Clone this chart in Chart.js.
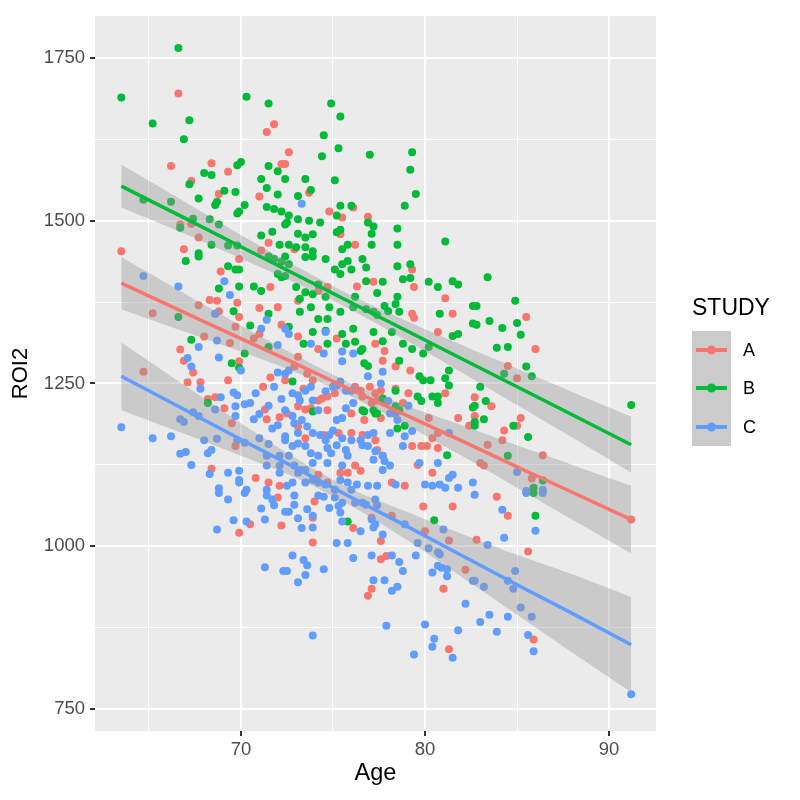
<!DOCTYPE html>
<html><head><meta charset="utf-8">
<script src="https://cdn.jsdelivr.net/npm/chart.js@4.4.0/dist/chart.umd.min.js"></script>
<style>html,body{margin:0;padding:0;background:#fff}#wrap{width:800px;height:800px}</style>
</head><body><div id="wrap"><canvas id="c" width="800" height="800"></canvas></div>
<script>
const studies = ['A','B','C'];
const studyColors = ['#F8766D','#00BA38','#619CFF'];
const xTicks = [65,70,75,80,85,90];
const yTicks = [750,875,1000,1125,1250,1375,1500,1625,1750];

// [Age, ROI2]
const pointsA = [
[66.6,1695],[71.8,1648],[71.4,1636],[66.2,1584],[68.4,1588],[69.3,1575],[67.3,1561],[71.0,1537],[72.2,1587],[68.8,1541],[71.5,1466],[66.7,1494],[67.3,1495],[67.7,1474],[66.9,1456],[63.5,1453],[71.1,1454],
[72.6,1605],[72.4,1587],[73.7,1543],[74.8,1514],[75.5,1505],[76.9,1506],[75.4,1479],[76.2,1463],[72.9,1456],[76.1,1520],
[65.2,1358],[64.7,1268],[66.7,1302],[66.9,1285],[67.4,1267],[67.1,1252],[67.8,1252],[68.0,1322],[69.4,1312],[67.7,1370],[68.6,1357],[68.3,1378],[68.7,1377],[68.8,1361],[69.7,1337],[69.8,1374],[69.9,1352],[68.9,1422],[69.9,1441],[71.0,1366],[71.6,1398],[71.0,1326],[70.7,1319],[69.9,1284],[69.3,1255],[71.6,1259],[71.2,1245],[69.1,1212],[68.6,1229],[68.2,1226],[69.5,1189],[71.3,1210],[71.4,1195],[72.1,1198],[69.7,1154],[68.4,1119],[70.8,1105],[71.5,1098],[72.1,1093],[72.0,1367],[72.2,1340],
[70.5,1034],[69.9,1021],[72.2,1032],[72.0,1075],
[74.0,1069],[73.9,1044],[73.9,1006],[76.1,1028],[77.1,1044],[77.6,1008],[77.6,980],[77.9,985],[77.1,935],[76.9,924],[81.3,842],[81.0,935],[82.2,964],[79.9,1061],[80.0,1023],[81.3,1009],[81.5,1061],[78.2,1047],
[83.9,1076],[84.5,1047],[82.8,1010],[85.6,992],[85.9,857],[91.2,1041],
[85.5,1352],[86.0,1303],[84.5,1277],[85.0,1258],[82.7,1229],[83.6,1215],[82.7,1200],[85.2,1197],[85.0,1185],[84.3,1178],[83.4,1156],[84.2,1163],[86.4,1140],[83.0,1128],[83.2,1124],[85.8,1104],
[79.3,1425],[76.3,1399],[77.2,1406],[79.4,1398],[81.1,1381],[73.1,1377],[74.2,1392],[74.7,1398],[79.3,1357],[79.4,1351],[81.5,1357],[80.7,1329],[73.1,1322],[74.2,1303],[75.2,1319],[77.3,1311],[77.8,1300],[77.7,1285],[78.4,1276],[79.2,1270],[81.1,1235],[81.8,1197],[82.4,1185],[80.7,1174],[80.4,1166],[80.2,1197],[78.8,1220],[77.6,1239],[78.4,1242],[79.1,1235],[79.3,1154],[79.8,1154],[80.1,1154],[79.6,1125],[80.4,1113],[80.7,1151],[78.2,1098],[78.9,1093],
[73.1,1291],[72.9,1276],[73.6,1265],[72.4,1255],[73.4,1242],[73.9,1255],[74.4,1227],[73.1,1215],[73.5,1210],[73.8,1212],[74.2,1224],
[74.7,1230],[75.1,1235],[76.2,1245],[76.5,1239],[76.6,1230],[77.0,1245],[77.3,1235],[77.1,1220],[77.4,1224],[77.8,1220],[76.0,1204],[76.7,1194],[77.6,1197],[74.7,1209],
[72.5,1204],[73.1,1184],[73.5,1166],[74.5,1171],[75.3,1174],[76.0,1174],[76.6,1171],[77.3,1163],[77.4,1148],[77.7,1139],[76.2,1124],[76.5,1116],[75.8,1113],[74.2,1110],[74.7,1098],[75.4,1113]
];
const pointsB = [
[63.5,1689],[66.6,1765],[70.3,1690],[71.5,1680],[65.2,1649],[67.2,1654],[66.9,1625],[70.0,1590],[69.8,1585],[68.0,1573],[68.4,1570],[67.2,1556],[71.5,1584],[72.0,1576],[71.1,1564],[71.4,1550],[72.0,1540],[67.7,1534],[69.1,1546],[68.7,1529],[68.6,1524],[69.7,1544],[70.2,1524],[69.9,1514],[69.8,1511],[71.4,1521],[71.8,1518],[72.2,1514],[72.4,1494],[71.1,1477],[71.7,1483],[72.1,1463],[64.7,1532],[66.2,1529],[67.4,1503],[68.3,1502],[68.8,1494],[66.7,1489],[68.4,1463],[69.3,1462],[69.8,1462],[67.7,1450],
[74.9,1680],[75.4,1660],[74.5,1631],[75.3,1611],[74.4,1599],[77.0,1601],[79.3,1605],[79.2,1578],[72.4,1564],[73.5,1564],[75.1,1562],[73.8,1547],[73.1,1538],[79.5,1541],[78.9,1523],[75.4,1523],[76.0,1523],[75.2,1508],[76.9,1497],[77.2,1491],[77.1,1480],[78.5,1488],[72.6,1508],[72.5,1497],[73.1,1502],[73.7,1500],[74.3,1497],[73.1,1480],[73.5,1474],[73.9,1479],[75.2,1482],[75.4,1486],[72.6,1463],[73.0,1459],[73.5,1459],[73.9,1453],[75.5,1456],[75.8,1463],[77.1,1463],[78.5,1463],[81.1,1468],
[67.0,1438],[67.7,1445],[66.6,1352],[67.3,1317],[69.6,1361],[68.8,1396],[69.3,1430],[69.7,1425],[69.9,1425],[69.9,1399],[70.7,1399],[71.1,1392],[70.5,1339],[71.5,1306],[70.2,1296],[69.5,1281],[69.9,1274],[68.2,1220],[71.5,1445],[71.8,1441],[72.2,1437],[72.0,1418],[72.2,1413],[71.5,1357],
[75.8,1038],[80.5,1040],[85.9,1082],[86.0,1047],
[83.4,1413],[84.9,1377],[82.8,1369],[83.5,1346],[84.2,1335],[85.0,1343],[85.2,1325],[82.8,1340],[83.9,1305],[84.5,1306],[84.3,1265],[85.5,1276],[85.8,1261],[83.0,1245],[91.2,1217],[83.3,1223],[82.7,1216],[83.2,1195],[82.7,1185],[84.8,1185],[85.6,1168],[84.5,1139],[86.4,1101],[85.9,1090],
[73.5,1444],[73.9,1445],[74.6,1441],[75.5,1433],[75.8,1438],[76.6,1441],[76.8,1428],[76.0,1425],[75.4,1418],[75.1,1425],[78.5,1430],[79.2,1433],
[78.8,1410],[79.2,1412],[80.2,1406],[80.7,1398],[81.5,1407],[81.8,1402],[76.8,1407],[77.7,1406],[77.4,1389],[78.5,1383],
[72.4,1445],[72.6,1433],[72.4,1415],[73.0,1398],[73.2,1380],[73.5,1390],[73.9,1387],[74.2,1402],[74.6,1383],[73.8,1367],[73.2,1360],[74.8,1367],[74.2,1349],[74.7,1349],[75.4,1360],
[76.2,1383],[76.1,1367],[76.8,1364],[77.2,1360],[77.8,1369],[78.0,1361],[78.6,1360],[78.4,1372],[77.4,1355],
[80.8,1357],[82.6,1369],[82.6,1342],[81.5,1323],[81.8,1326],
[72.6,1337],[73.4,1311],[73.9,1329],[74.6,1331],[74.7,1311],[75.5,1326],[76.1,1334],[76.2,1314],[76.5,1300],[75.7,1311],[76.6,1303],[77.2,1329],[77.7,1315],[78.2,1329],[78.8,1311],[79.3,1303],[79.9,1296],[80.2,1306],
[78.6,1285],[76.7,1281],[76.9,1277],
[79.7,1261],[79.9,1255],[80.3,1255],[81.3,1270],[81.1,1258],[81.3,1247],
[79.6,1230],[80.4,1230],[80.7,1230],[79.8,1223],[80.7,1220],
[82.6,1213],[82.7,1191],
[81.2,1140],[78.4,1215],[78.6,1209],[77.4,1204],[76.7,1207],[77.7,1227],[78.4,1239],[78.5,1181],[78.9,1185],[72.8,1253],[73.9,1207],[76.6,1209],[77.2,1209],[77.3,1204]
];
const pointsC = [
[73.3,1526],
[64.7,1415],[66.6,1399],[63.5,1183],[65.2,1166],[66.2,1169],[66.7,1195],[66.9,1191],[67.1,1289],[67.3,1276],[67.8,1242],[67.7,1306],[68.7,1316],[68.8,1290],[68.9,1229],[68.6,1357],[69.4,1386],[69.1,1407],[71.1,1334],[71.4,1348],[72.0,1309],[70.0,1270],[72.0,1267],[71.8,1245],[70.8,1235],[69.6,1236],[69.8,1232],[70.5,1220],[70.2,1218],[69.7,1215],[67.4,1206],[67.7,1200],[68.6,1210],[69.7,1200],[71.5,1216],[71.0,1203],[70.7,1195],[71.7,1181],[72.0,1186],[72.2,1226],[71.0,1166],[71.5,1157],[69.8,1163],[70.2,1159],[68.0,1163],[68.7,1165],[68.4,1148],[68.2,1143],[66.7,1142],[67.0,1145],[67.3,1125],[68.3,1111],[69.3,1113],[69.9,1116],[69.9,1102],[69.9,1098],[71.4,1139],[71.4,1124],[72.1,1139],[72.1,1124],[72.1,1113],[68.8,1089],[70.3,1087],[71.4,1087],
[68.8,1082],[69.3,1072],[70.2,1082],[71.1,1058],[71.3,1041],[69.6,1040],[70.3,1038],[68.7,1026],[71.8,1063],[71.7,1072],[71.4,1078],[72.4,1053],[71.3,968],[72.3,962],
[72.9,1078],[72.9,1064],[72.6,1053],[73.1,1043],[73.3,1028],[73.6,1057],[73.9,1047],[73.9,1029],[74.2,1078],[74.5,1076],[74.8,1059],[75.1,1075],[75.3,1062],[75.5,1067],[75.4,1052],[75.5,1038],[76.2,1067],[76.6,1067],[76.8,1064],[77.3,1072],[77.4,1063],[77.1,1041],[77.3,1034],[77.2,1029],[77.7,1018],[76.5,1023],[75.2,1005],[75.8,1005],[76.1,982],[72.8,986],[73.4,979],[73.6,971],[73.5,956],[73.1,945],[72.5,962],[74.5,965],[77.1,986],[78.2,986],[78.6,976],[78.8,962],[77.2,948],[77.8,948],[78.2,932],[78.5,938],[73.9,863],[77.9,878],[80.0,880],[80.5,858],[80.4,846],[81.5,829],[79.4,834],[81.8,871],[82.2,912],[82.6,947],[80.4,960],[80.7,970],[80.9,967],[81.2,965],[81.2,954],[79.5,986],[80.2,997],[80.7,991],[80.8,988],[79.6,1005],[78.9,1034],[81.0,1026],
[82.7,1079],[85.5,1082],[86.4,1082],[84.2,1056],[86.0,1024],[84.3,1013],[83.4,1002],[84.9,962],[84.5,947],[84.8,935],[82.7,947],[83.2,938],[85.2,906],[85.8,892],[83.5,895],[84.5,892],[83.0,884],[83.9,869],[85.6,864],[85.9,839],[91.2,773],
[85.0,1114],[86.4,1087],[85.5,1085],
[74.6,1329],[73.8,1311],[74.5,1296],[75.5,1299],[76.1,1296],[75.5,1284],[77.7,1268],[76.9,1261],[81.3,1174],[79.1,1216],[78.1,1204],[78.5,1194],[78.9,1169],[78.1,1174],[78.8,1154],[79.3,1177],[79.7,1128],[80.7,1128],[81.5,1110],[81.3,1105],[80.0,1095],[80.4,1093],[80.8,1095],[81.1,1090],[81.8,1090],[82.6,1098],[78.4,1095],
[72.4,1334],[72.6,1326],[72.4,1265],[72.6,1270],
[72.8,1235],[73.1,1232],[73.5,1239],[73.8,1245],[73.9,1224],[74.2,1209],[73.2,1224],
[74.6,1238],[75.0,1245],[75.2,1247],[75.4,1253],[75.7,1239],[76.0,1239],[76.1,1220],[75.7,1212],[75.5,1197],[75.2,1194],
[77.6,1250],[78.0,1223],[78.4,1204],
[72.4,1209],[72.8,1200],[72.9,1189],[73.3,1194],[73.6,1184],[73.9,1174],[73.1,1174],[73.5,1154],[72.8,1154],[72.4,1163],[72.6,1139],[72.9,1124],[73.2,1117],[73.5,1117],[73.9,1128],
[74.3,1171],[74.6,1163],[74.8,1171],[75.0,1178],[75.2,1155],[75.5,1166],[75.7,1148],[75.8,1139],[74.9,1143],[74.7,1151],[76.0,1163],[76.5,1163],[76.6,1155],[76.9,1171],[77.2,1174],
[76.9,1154],[77.3,1146],[77.7,1139],[77.8,1131],[78.1,1124],[77.7,1117],[77.2,1133],
[75.4,1102],[75.8,1098],[76.3,1095],[76.9,1093],[77.4,1093],[76.0,1087],[75.1,1087],[74.6,1095],[74.2,1098],[73.9,1102],[73.5,1098],[73.1,1113],[72.8,1098],[72.5,1093],
[72.4,1169],[73.1,1158],[73.8,1143],[74.2,1139],[74.7,1128],[75.5,1124]
];

// fitted lines and confidence bands read at these ages
const fitAges = [63.5,67,70,73,76,79,82,85,88,91.2];
const fitA   = [1404,1358,1319,1280,1240,1201,1162,1122,1083,1041];
const upperA = [1444,1387,1339,1293,1250,1216,1186,1155,1125,1093];
const lowerA = [1364,1329,1299,1267,1230,1186,1139,1090,1041,989];
const fitB   = [1553,1503,1460,1417,1374,1331,1288,1245,1202,1156];
const upperB = [1586,1528,1478,1430,1385,1346,1309,1273,1237,1199];
const lowerB = [1520,1479,1442,1404,1363,1316,1267,1217,1167,1113];
const fitC   = [1261,1209,1164,1120,1075,1031,986,941,897,849];
const upperC = [1313,1246,1189,1135,1088,1053,1019,987,957,922];
const lowerC = [1209,1172,1139,1105,1062,1010,953,895,837,776];

const FONT = '"Liberation Sans", Arial, Helvetica, sans-serif';
const toXY = arr => arr.map(p => ({x:p[0], y:p[1]}));
const curve = ys => fitAges.map((x,i) => ({x, y: ys[i]}));

const allPoints = [pointsA, pointsB, pointsC];
const fits = [fitA, fitB, fitC], uppers = [upperA, upperB, upperC], lowers = [lowerA, lowerB, lowerC];
const datasets = [];
studies.forEach((s, i) => {
  datasets.push({type:'scatter', label:s, data: toXY(allPoints[i]), pointRadius:4, pointBorderWidth:0,
    backgroundColor: studyColors[i], borderColor: studyColors[i], order: 10 - i});
});
studies.forEach((s, i) => {
  const base = 7 - 2*i;
  datasets.push({type:'line', label:s+' upper', data: curve(uppers[i]), borderColor:'rgba(0,0,0,0)', borderWidth:0,
    pointRadius:0, fill:'+1', backgroundColor:'rgba(153,153,153,0.4)', tension:0.3, order: base});
  datasets.push({type:'line', label:s+' lower', data: curve(lowers[i]), borderColor:'rgba(0,0,0,0)', borderWidth:0,
    pointRadius:0, fill:false, tension:0.3, order: base});
  datasets.push({type:'line', label:s+' fit', data: curve(fits[i]), borderColor: studyColors[i], borderWidth:3.5,
    pointRadius:0, fill:false, order: base - 1});
});

const panelBg = {
  id:'panelBg',
  beforeDraw(chart){
    const {ctx, chartArea:a} = chart;
    ctx.save(); ctx.fillStyle='#EBEBEB'; ctx.fillRect(a.left, a.top, a.right-a.left, a.bottom-a.top); ctx.restore();
  }
};
const legendPlugin = {
  id:'ggLegend',
  afterDraw(chart){
    const ctx = chart.ctx;
    ctx.save();
    ctx.fillStyle = '#000'; ctx.font = '23px ' + FONT; ctx.textBaseline = 'middle'; ctx.textAlign = 'left';
    ctx.fillText('STUDY', 692, 309);
    ctx.fillStyle = '#CBCBCB';
    ctx.fillRect(692, 331, 39, 115);
    const rowY = [350, 388, 427];
    studies.forEach((s, i) => {
      ctx.strokeStyle = studyColors[i]; ctx.lineWidth = 4;
      ctx.beginPath(); ctx.moveTo(696, rowY[i]); ctx.lineTo(727, rowY[i]); ctx.stroke();
      ctx.fillStyle = studyColors[i];
      ctx.beginPath(); ctx.arc(711.5, rowY[i], 4.5, 0, Math.PI*2); ctx.fill();
      ctx.fillStyle = '#000'; ctx.font = '18px ' + FONT;
      ctx.fillText(s, 743, rowY[i] + 1);
    });
    ctx.restore();
  }
};

new Chart(document.getElementById('c'), {
  type:'scatter',
  data:{datasets},
  options:{
    responsive:false, animation:false, devicePixelRatio:1,
    layout:{padding:{top:12, right:144, left:0, bottom:0}},
    plugins:{legend:{display:false}, tooltip:{enabled:false}},
    scales:{
      x:{type:'linear', min:62.07, max:92.55,
        afterBuildTicks: s => { s.ticks = xTicks.map(v => ({value:v})); },
        afterFit: s => { s.height = 69; },
        border:{display:false},
        grid:{color:'#FFFFFF', lineWidth: c => (c.tick && c.tick.value % 10 === 0) ? 2 : 1,
          drawTicks:true, tickLength:5, tickWidth:2,
          tickColor: c => (c.tick && c.tick.value % 10 === 0) ? '#333333' : 'rgba(0,0,0,0)'},
        ticks:{autoSkip:false, maxRotation:0, padding:3, color:'#4D4D4D', font:{family:FONT, size:18.5},
          callback: v => (v % 10 === 0) ? String(v) : ''},
        title:{display:true, text:'Age', color:'#000', font:{family:FONT, size:23.5}, padding:{top:0, bottom:12}}
      },
      y:{type:'linear', min:716.5, max:1814,
        afterBuildTicks: s => { s.ticks = yTicks.map(v => ({value:v})); },
        afterFit: s => { s.width = 95; },
        border:{display:false},
        grid:{color:'#FFFFFF', lineWidth: c => (c.tick && c.tick.value % 250 === 0) ? 2 : 1,
          drawTicks:true, tickLength:5, tickWidth:2,
          tickColor: c => (c.tick && c.tick.value % 250 === 0) ? '#333333' : 'rgba(0,0,0,0)'},
        ticks:{autoSkip:false, padding:5, color:'#4D4D4D', font:{family:FONT, size:18.5},
          callback: v => (v % 250 === 0) ? String(v) : ''},
        title:{display:true, text:'ROI2', color:'#000', font:{family:FONT, size:22}, padding:{top:8, bottom:0}}
      }
    }
  },
  plugins:[panelBg, legendPlugin]
});
</script></body></html>
